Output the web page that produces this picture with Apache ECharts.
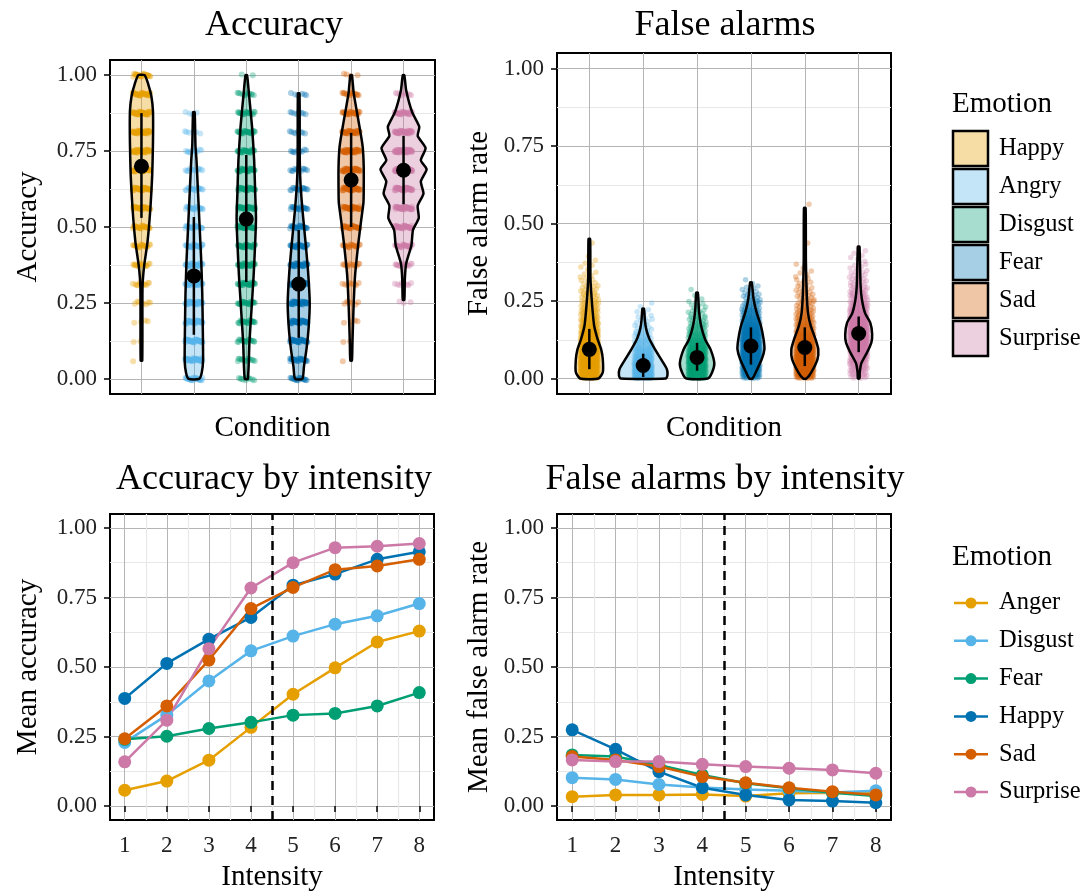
<!DOCTYPE html>
<html>
<head>
<meta charset="utf-8">
<script src="https://cdn.jsdelivr.net/npm/echarts@6/dist/echarts.min.js"></script>
<style>
  html, body { margin: 0; background: #fff; }
  #main { width: 1082px; height: 893px; }
</style>
</head>
<body>
<div id="main"></div>
<script>
// ---- data ----
var emotions = ['Happy', 'Angry', 'Disgust', 'Fear', 'Sad', 'Surprise'];
var lineEmotions = ['Anger', 'Disgust', 'Fear', 'Happy', 'Sad', 'Surprise'];
var palette = ['#E69F00', '#56B4E9', '#009E73', '#0072B2', '#D55E00', '#CC79A7'];
var yTicks = [0, 0.25, 0.5, 0.75, 1];
var yMinor = [0.125, 0.375, 0.625, 0.875];
var intensity = [1, 2, 3, 4, 5, 6, 7, 8];
var intensityMinor = [1.5, 2.5, 3.5, 4.5, 5.5, 6.5, 7.5];

// accuracy is scored in steps of 1/16
var accLevels = [0, 0.0625, 0.125, 0.1875, 0.25, 0.3125, 0.375, 0.4375, 0.5,
  0.5625, 0.625, 0.6875, 0.75, 0.8125, 0.875, 0.9375, 1];
var accCountHappy    = [0, 1, 2, 4, 8, 12, 16, 20, 26, 32, 38, 42, 44, 44, 42, 34, 24];
var accCountAngry    = [28, 40, 40, 40, 40, 36, 32, 28, 24, 20, 16, 12, 10, 6, 4, 0, 0];
var accCountDisgust  = [10, 14, 18, 22, 26, 30, 34, 36, 38, 38, 36, 34, 30, 26, 20, 12, 2];
var accCountFear     = [20, 28, 36, 42, 44, 42, 38, 32, 26, 20, 16, 12, 10, 8, 8, 6, 0];
var accCountSad      = [0, 1, 2, 4, 6, 8, 12, 18, 26, 36, 44, 46, 44, 36, 26, 16, 4];
var accCountSurprise = [0, 0, 0, 0, 3, 8, 14, 24, 36, 44, 50, 56, 56, 44, 28, 8, 0];

// violin outlines: [value, half width in category units], top to bottom
var accViolinHappy = [[1.0, 0.06], [0.97, 0.13], [0.93, 0.19], [0.88, 0.22], [0.78, 0.22], [0.67, 0.205],
  [0.56, 0.17], [0.45, 0.115], [0.37, 0.05], [0.30, 0.02], [0.06, 0.015]];
var accViolinAngry = [[0.878, 0.015], [0.77, 0.03], [0.72, 0.05], [0.61, 0.08], [0.5, 0.11], [0.39, 0.14],
  [0.28, 0.16], [0.17, 0.17], [0.06, 0.175], [0.02, 0.15], [0.0, 0.1]];
var accViolinDisgust = [[1.0, 0.015], [0.94, 0.05], [0.83, 0.11], [0.72, 0.15], [0.61, 0.17], [0.53, 0.185],
  [0.45, 0.17], [0.34, 0.14], [0.23, 0.10], [0.12, 0.06], [0.0, 0.03]];
var accViolinFear = [[0.94, 0.015], [0.72, 0.02], [0.64, 0.035], [0.55, 0.075], [0.45, 0.13], [0.35, 0.18],
  [0.25, 0.21], [0.17, 0.19], [0.1, 0.15], [0.04, 0.1], [0.0, 0.07]];
var accViolinSad = [[1.0, 0.015], [0.94, 0.05], [0.83, 0.16], [0.765, 0.22], [0.70, 0.24], [0.62, 0.24],
  [0.58, 0.235], [0.52, 0.19], [0.45, 0.14], [0.34, 0.075], [0.23, 0.045], [0.12, 0.025], [0.06, 0.015]];
var accViolinSurprise = [[1.0, 0.015], [0.95, 0.05], [0.88, 0.16], [0.83, 0.3], [0.80, 0.27], [0.76, 0.42],
  [0.72, 0.33], [0.69, 0.44], [0.65, 0.33], [0.61, 0.38], [0.57, 0.27], [0.53, 0.29], [0.49, 0.18],
  [0.44, 0.15], [0.38, 0.05], [0.33, 0.025], [0.26, 0.015]];

var accMean = [0.70, 0.339, 0.526, 0.312, 0.655, 0.687];
var accLow  = [0.53, 0.145, 0.319, 0.135, 0.50, 0.575];
var accHigh = [0.875, 0.533, 0.737, 0.49, 0.81, 0.80];

// false alarm rates, counted in bins of 0.025
var alarmBinStart = [0, 0.025, 0.05, 0.075, 0.1, 0.125, 0.15, 0.175, 0.2, 0.225, 0.25, 0.275,
  0.3, 0.325, 0.35, 0.375, 0.4, 0.425, 0.45, 0.475, 0.5, 0.525, 0.55];
var alarmBinWidth = 0.025;
var faCountHappy    = [75, 88, 88, 75, 62, 50, 38, 30, 25, 20, 15, 12, 7, 5, 4, 2, 0, 1, 0, 0, 0, 0, 0];
var faCountAngry    = [100, 88, 55, 35, 22, 15, 10, 7, 4, 2, 0, 0, 0, 0, 0, 0, 0, 0, 0, 0, 0, 0, 0];
var faCountDisgust  = [62, 70, 70, 55, 40, 28, 20, 15, 10, 7, 2, 1, 0, 0, 0, 0, 0, 0, 0, 0, 0, 0, 0];
var faCountFear     = [45, 62, 75, 80, 75, 62, 50, 38, 28, 18, 12, 7, 2, 0, 0, 0, 0, 0, 0, 0, 0, 0, 0];
var faCountSad      = [55, 75, 80, 70, 55, 42, 32, 25, 20, 15, 12, 9, 6, 4, 2, 0, 0, 1, 0, 0, 0, 0, 1];
var faCountSurprise = [20, 25, 35, 50, 65, 70, 65, 55, 40, 30, 22, 17, 12, 9, 6, 4, 3, 0, 0, 0, 0, 0, 0];

var faViolinHappy = [[0.45, 0.015], [0.33, 0.02], [0.277, 0.035], [0.22, 0.06], [0.17, 0.09], [0.126, 0.155],
  [0.094, 0.22], [0.062, 0.25], [0.02, 0.25], [0.0, 0.17]];
var faViolinAngry = [[0.225, 0.015], [0.19, 0.03], [0.16, 0.055], [0.13, 0.11], [0.094, 0.22], [0.06, 0.34],
  [0.03, 0.44], [0.01, 0.45], [0.0, 0.42]];
var faViolinDisgust = [[0.277, 0.015], [0.22, 0.035], [0.17, 0.075], [0.126, 0.15], [0.094, 0.25], [0.05, 0.32],
  [0.02, 0.28], [0.0, 0.2]];
var faViolinFear = [[0.31, 0.015], [0.255, 0.05], [0.21, 0.11], [0.17, 0.185], [0.126, 0.235], [0.094, 0.25],
  [0.062, 0.2], [0.02, 0.09], [0.0, 0.03]];
var faViolinSad = [[0.55, 0.015], [0.38, 0.02], [0.277, 0.035], [0.21, 0.06], [0.17, 0.11], [0.126, 0.2],
  [0.094, 0.25], [0.062, 0.235], [0.02, 0.12], [0.0, 0.03]];
var faViolinSurprise = [[0.425, 0.015], [0.3, 0.035], [0.255, 0.06], [0.21, 0.12], [0.18, 0.215], [0.143, 0.25],
  [0.116, 0.235], [0.084, 0.155], [0.05, 0.05], [0.02, 0.02], [0.0, 0.015]];

var faMean = [0.094, 0.042, 0.068, 0.105, 0.10, 0.145];
var faLow  = [0.03, 0.005, 0.025, 0.045, 0.04, 0.085];
var faHigh = [0.16, 0.08, 0.115, 0.165, 0.165, 0.2];

// mean accuracy by intensity
var accAnger    = [0.057, 0.090, 0.165, 0.283, 0.402, 0.497, 0.590, 0.629];
var accDisgust  = [0.229, 0.327, 0.450, 0.558, 0.611, 0.654, 0.684, 0.728];
var accFear     = [0.240, 0.251, 0.279, 0.301, 0.327, 0.333, 0.360, 0.408];
var accHappy    = [0.387, 0.513, 0.600, 0.678, 0.794, 0.834, 0.887, 0.914];
var accSad      = [0.242, 0.360, 0.525, 0.710, 0.786, 0.850, 0.863, 0.887];
var accSurprise = [0.159, 0.309, 0.566, 0.784, 0.875, 0.929, 0.934, 0.944];

// mean false alarm rate by intensity
var faAnger    = [0.034, 0.040, 0.040, 0.042, 0.036, 0.046, 0.048, 0.046];
var faDisgust  = [0.102, 0.096, 0.078, 0.067, 0.060, 0.055, 0.049, 0.055];
var faFear     = [0.184, 0.178, 0.148, 0.112, 0.082, 0.064, 0.048, 0.036];
var faHappy    = [0.274, 0.204, 0.124, 0.066, 0.040, 0.022, 0.018, 0.012];
var faSad      = [0.178, 0.166, 0.142, 0.106, 0.084, 0.066, 0.052, 0.040];
var faSurprise = [0.166, 0.160, 0.160, 0.150, 0.142, 0.136, 0.130, 0.118];

// ---- helpers ----
var FONT = 'Liberation Serif';
var jitterWidth = 0.17;
var jitterHeight = 0.005;

function fade(hex, a) {
  var n = parseInt(hex.slice(1), 16);
  return 'rgba(' + (n >> 16) + ',' + ((n >> 8) & 255) + ',' + (n & 255) + ',' + a + ')';
}
// deterministic spread in [-1, 1]
function spread(j, k) {
  return (((j + 1) * 0.6180339887 + k * 0.4142) % 1) * 2 - 1;
}
function spreadY(j, k) {
  return (((j + 1) * 0.7548776662 + k * 0.31) % 1) * 2 - 1;
}
function accuracyPoints(counts, cat) {
  var out = [];
  counts.forEach(function (n, k) {
    for (var j = 0; j < n; j++) {
      out.push([cat + jitterWidth * spread(j, k), accLevels[k] + jitterHeight * spreadY(j, k)]);
    }
  });
  return out;
}
function alarmPoints(counts, cat) {
  var out = [];
  counts.forEach(function (n, k) {
    for (var j = 0; j < n; j++) {
      out.push([cat + jitterWidth * spread(j, k), alarmBinStart[k] + alarmBinWidth * (j + 0.5) / n]);
    }
  });
  return out;
}

function majorY(gridIndex, name, gap) {
  return {
    type: 'value', gridIndex: gridIndex, min: -0.05, max: 1.05,
    name: name, nameLocation: 'middle', nameGap: gap,
    nameTextStyle: { fontSize: 29, color: '#000', fontFamily: FONT },
    axisLine: { show: false },
    axisTick: { show: true, length: 6, lineStyle: { color: '#000', width: 1.5 }, customValues: yTicks },
    axisLabel: { fontSize: 23, color: '#222', margin: 13, fontFamily: FONT, customValues: yTicks,
      formatter: function (v) { return v.toFixed(2); } },
    splitLine: { show: true, lineStyle: { color: '#b5b5b5', width: 1 } }
  };
}
function minorY(gridIndex) {
  return {
    type: 'value', gridIndex: gridIndex, min: -0.05, max: 1.05, position: 'left',
    axisLine: { show: false }, axisTick: { show: false, customValues: yMinor },
    axisLabel: { show: false },
    splitLine: { show: true, lineStyle: { color: '#e8e8e8', width: 1.2 } }
  };
}
function conditionX(gridIndex) {
  return {
    type: 'value', gridIndex: gridIndex, min: 0.4, max: 6.6,
    name: 'Condition', nameLocation: 'middle', nameGap: 20,
    nameTextStyle: { fontSize: 29, color: '#000', fontFamily: FONT },
    axisLine: { show: false },
    axisTick: { show: false, customValues: [1, 2, 3, 4, 5, 6] },
    axisLabel: { show: false },
    splitLine: { show: true, lineStyle: { color: '#b5b5b5', width: 1 } }
  };
}
function intensityX(gridIndex) {
  return {
    type: 'value', gridIndex: gridIndex, min: 0.65, max: 8.35,
    name: 'Intensity', nameLocation: 'middle', nameGap: 43,
    nameTextStyle: { fontSize: 29, color: '#000', fontFamily: FONT },
    axisLine: { show: false },
    axisTick: { show: true, length: 6, lineStyle: { color: '#000', width: 1.5 }, customValues: intensity },
    axisLabel: { fontSize: 23, color: '#222', margin: 14, fontFamily: FONT, customValues: intensity },
    splitLine: { show: true, lineStyle: { color: '#b5b5b5', width: 1 } }
  };
}
function intensityMinorX(gridIndex) {
  return {
    type: 'value', gridIndex: gridIndex, min: 0.65, max: 8.35, position: 'bottom',
    axisLine: { show: false }, axisTick: { show: false, customValues: intensityMinor },
    axisLabel: { show: false },
    splitLine: { show: true, lineStyle: { color: '#e8e8e8', width: 1.2 } }
  };
}

// part: 'fill' draws the translucent body, 'outline' the black edge
function violinSeries(axisIdx, shapes, means, part) {
  return {
    type: 'custom', xAxisIndex: axisIdx, yAxisIndex: axisIdx, z: part === 'fill' ? 1 : 3, silent: true,
    data: means.map(function (m, i) { return [i + 1, m]; }),
    encode: { x: 0, y: 1 },
    renderItem: function (params, api) {
      var i = params.dataIndex;
      var shape = shapes[i];
      var right = shape.map(function (p) { return api.coord([i + 1 + p[1], p[0]]); });
      var left = shape.slice().reverse().map(function (p) { return api.coord([i + 1 - p[1], p[0]]); });
      var style = part === 'fill'
        ? { fill: fade(palette[i], 0.35), stroke: null }
        : { fill: null, stroke: '#000', lineWidth: 2.5, lineJoin: 'round' };
      return { type: 'polygon', shape: { points: right.concat(left), smooth: 0.2 }, style: style };
    }
  };
}
function rangeSeries(axisIdx, means, lows, highs) {
  return {
    type: 'custom', xAxisIndex: axisIdx, yAxisIndex: axisIdx, z: 4, silent: true,
    data: means.map(function (m, i) { return [i + 1, m, lows[i], highs[i]]; }),
    encode: { x: 0, y: 1 },
    renderItem: function (params, api) {
      var x = api.value(0);
      var c = api.coord([x, api.value(1)]);
      var lo = api.coord([x, api.value(2)]);
      var hi = api.coord([x, api.value(3)]);
      return {
        type: 'group',
        children: [
          { type: 'line', shape: { x1: lo[0], y1: lo[1], x2: hi[0], y2: hi[1] },
            style: { stroke: '#000', lineWidth: 2.5 } },
          { type: 'circle', shape: { cx: c[0], cy: c[1], r: 7.5 }, style: { fill: '#000' } }
        ]
      };
    }
  };
}

var accCounts = [accCountHappy, accCountAngry, accCountDisgust, accCountFear, accCountSad, accCountSurprise];
var faCounts = [faCountHappy, faCountAngry, faCountDisgust, faCountFear, faCountSad, faCountSurprise];
var accShapes = [accViolinHappy, accViolinAngry, accViolinDisgust, accViolinFear, accViolinSad, accViolinSurprise];
var faShapes = [faViolinHappy, faViolinAngry, faViolinDisgust, faViolinFear, faViolinSad, faViolinSurprise];
var accLines = [accAnger, accDisgust, accFear, accHappy, accSad, accSurprise];
var faLines = [faAnger, faDisgust, faFear, faHappy, faSad, faSurprise];

var series = [];
series.push(violinSeries(0, accShapes, accMean, 'fill'));
series.push(violinSeries(1, faShapes, faMean, 'fill'));
emotions.forEach(function (e, i) {
  series.push({
    type: 'scatter', name: e, xAxisIndex: 0, yAxisIndex: 0, z: 2, silent: true,
    symbolSize: 6, itemStyle: { color: fade(palette[i], 0.42) },
    data: accuracyPoints(accCounts[i], i + 1)
  });
  series.push({
    type: 'scatter', name: e, xAxisIndex: 1, yAxisIndex: 1, z: 2, silent: true,
    symbolSize: 5.5, itemStyle: { color: fade(palette[i], 0.4) },
    data: alarmPoints(faCounts[i], i + 1)
  });
});
series.push(violinSeries(0, accShapes, accMean, 'outline'));
series.push(violinSeries(1, faShapes, faMean, 'outline'));
series.push(rangeSeries(0, accMean, accLow, accHigh));
series.push(rangeSeries(1, faMean, faLow, faHigh));

[[2, accLines], [3, faLines]].forEach(function (panel) {
  var idx = panel[0];
  panel[1].forEach(function (vals, i) {
    var s = {
      type: 'line', name: lineEmotions[i], xAxisIndex: idx, yAxisIndex: idx, z: 3,
      data: vals.map(function (v, k) { return [intensity[k], v]; }),
      symbol: 'circle', symbolSize: 13, showSymbol: true,
      lineStyle: { color: palette[i], width: 2.5 },
      itemStyle: { color: palette[i] },
      emphasis: { disabled: true }
    };
    if (i === 0) {
      s.markLine = {
        silent: true, symbol: 'none', label: { show: false },
        lineStyle: { color: '#000', type: [9, 6], width: 2.5 },
        data: [{ xAxis: 4.5 }]
      };
    }
    series.push(s);
  });
});

// ---- legends ----
var graphics = [];
function legendTitle(y) {
  graphics.push({ type: 'text', x: 952, y: y,
    style: { text: 'Emotion', font: '29px "' + FONT + '"', fill: '#000', verticalAlign: 'middle' } });
}
legendTitle(104);
emotions.forEach(function (e, i) {
  var y = 131 + i * 38;
  graphics.push({ type: 'rect', shape: { x: 953, y: y, width: 35, height: 35 },
    style: { fill: fade(palette[i], 0.35), stroke: '#000', lineWidth: 2.5 } });
  graphics.push({ type: 'text', x: 999, y: y + 18,
    style: { text: e, font: '24.5px "' + FONT + '"', fill: '#000', verticalAlign: 'middle' } });
});
legendTitle(557);
lineEmotions.forEach(function (e, i) {
  var y = 603 + i * 37.8;
  graphics.push({ type: 'line', shape: { x1: 954, y1: y, x2: 988, y2: y },
    style: { stroke: palette[i], lineWidth: 2.5 } });
  graphics.push({ type: 'circle', shape: { cx: 971, cy: y, r: 5.5 }, style: { fill: palette[i] } });
  graphics.push({ type: 'text', x: 999, y: y,
    style: { text: e, font: '24.5px "' + FONT + '"', fill: '#000', verticalAlign: 'middle' } });
});

function panelTitle(text, x, top) {
  return { text: text, left: x, top: top, textAlign: 'center',
    textStyle: { fontSize: 36, fontWeight: 'normal', color: '#000', fontFamily: FONT } };
}

var gridBox = { show: true, borderColor: '#000', borderWidth: 2, backgroundColor: '#fff' };
var option = {
  animation: false,
  backgroundColor: '#fff',
  textStyle: { fontFamily: FONT },
  title: [
    panelTitle('Accuracy', 269, 3),
    panelTitle('False alarms', 720, 3),
    panelTitle('Accuracy by intensity', 269, 457),
    panelTitle('False alarms by intensity', 720, 457)
  ],
  grid: [
    Object.assign({ left: 110, top: 60, width: 325, height: 334 }, gridBox),
    Object.assign({ left: 557, top: 53, width: 334, height: 341 }, gridBox),
    Object.assign({ left: 110, top: 514, width: 324, height: 306 }, gridBox),
    Object.assign({ left: 557, top: 514, width: 334, height: 306 }, gridBox)
  ],
  xAxis: [conditionX(0), conditionX(1), intensityX(2), intensityX(3), intensityMinorX(2), intensityMinorX(3)],
  yAxis: [
    majorY(0, 'Accuracy', 67), majorY(1, 'False alarm rate', 63),
    majorY(2, 'Mean accuracy', 67), majorY(3, 'Mean false alarm rate', 63),
    minorY(0), minorY(1), minorY(2), minorY(3)
  ],
  series: series,
  graphic: graphics
};

var chart = echarts.init(document.getElementById('main'));
chart.setOption(option);
</script>
</body>
</html>
